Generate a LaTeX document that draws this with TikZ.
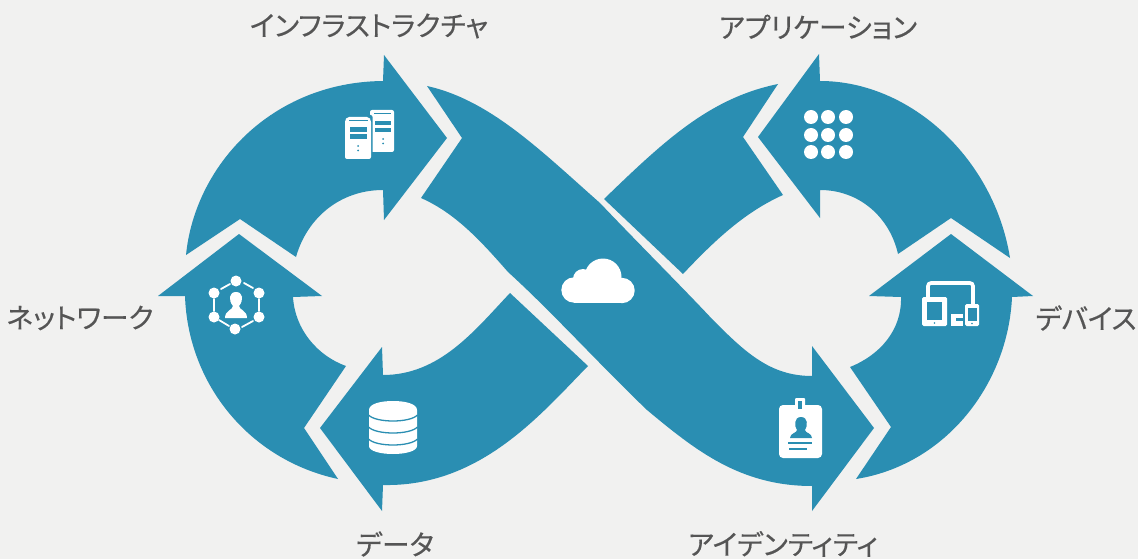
\documentclass[tikz,border=0pt]{standalone}
\usepackage{fontspec}
\newfontfamily\jpfont[FakeBold=0.35,RawFeature=+palt]{Noto Sans CJK JP}
\definecolor{bgc}{HTML}{F1F1F0}
\definecolor{teal}{HTML}{2A8EB2}
\definecolor{lab}{HTML}{555555}
\tikzset{
  band/.style={fill=teal,draw=none},
  ico/.style={fill=white,draw=none},
  icoline/.style={draw=white,line width=1.8pt,line cap=round},
  cut/.style={fill=teal,draw=none},
  lbl/.style={text=lab,font=\jpfont\fontsize{27.8}{30}\selectfont,inner sep=0pt,anchor=center}
}
\begin{document}
\begin{tikzpicture}[x=1pt,y=-1pt]
\useasboundingbox (0,0) rectangle (1138,559);
\fill[bgc] (0,0) rectangle (1138,559);
% infrastructure arrow
\path[band] (186,255) .. controls (195,165) and (272,82) .. (383,81) -- (384,55) -- (447,138) -- (384,220) -- (383,190)
  .. controls (340,190) and (307,218) .. (296,257) -- (240,219) -- cycle;
% network arrow
\path[band] (239,234) -- (322,296) -- (293,297) .. controls (295,330) and (318,356) .. (346,366) -- (304,428) -- (338,479)
  .. controls (250,460) and (188,385) .. (185,296) -- (158,296) -- cycle;
% data arrow
\path[band] (320,428) -- (382,347) -- (383,375) .. controls (440,375) and (475,330) .. (510,293) -- (588,366)
  .. controls (540,415) and (480,487) .. (383,485) -- (382,511) -- cycle;
% long band
\path[band] (427,86) .. controls (490,100) and (540,150) .. (600,203)
  .. controls (640,245) and (685,290) .. (713,320) .. controls (745,352) and (770,376) .. (812,376)
  -- (812,346) -- (874,428) -- (812,511) -- (812,486)
  .. controls (740,486) and (695,450) .. (647,410) .. controls (600,365) and (550,310) .. (508,272)
  .. controls (480,240) and (455,213) .. (421,198) -- (462,138) -- cycle;
% application band
\path[band] (778,84) .. controls (710,98) and (665,140) .. (604,199) -- (683,274)
  .. controls (715,240) and (745,212) .. (783,195) -- (743,137) -- cycle;
% application arrow
\path[band] (758,137) -- (819,54) -- (820,81) .. controls (910,81) and (994,158) .. (1010,258) -- (951,218) -- (898,254)
  .. controls (890,218) and (860,190) .. (820,190) -- (820,218) -- cycle;
% device arrow
\path[band] (951,234) -- (1033,296) -- (1012,297) .. controls (1008,385) and (945,465) .. (856,479) -- (891,427) -- (850,367)
  .. controls (880,355) and (902,330) .. (901,297) -- (869,296) -- cycle;
% server icon
\path[ico,rounded corners=2pt] (370,110) rectangle (394,152);
\path[cut,rounded corners=2pt] (343,115) rectangle (372.5,161);
\path[ico,rounded corners=2pt] (345,159) -- (345,120) -- (347,117) -- (369,117) -- (371,120) -- (371,159) -- cycle;
\foreach \yy in {127.5,134.5}{\fill[teal] (350,\yy) rectangle (367,\yy+4.5);}
\foreach \yy in {121,128}{\fill[teal] (375,\yy) rectangle (391,\yy+4.5);}
\fill[teal] (349,120.3) rectangle (368,121.2);
\fill[teal] (374,113.3) rectangle (391,114.2);
\foreach \yy in {146,150.5}{\fill[teal] (358,\yy) circle (1);}
\foreach \yy in {139,143.5}{\fill[teal] (383,\yy) circle (1);}
% network icon
\foreach \a/\b in {236/281,259/293,259/317,235/329,214/317,214/293}{\fill[white] (\a,\b) circle (5.5);}
\draw[icoline] (221,289) -- (230,284);
\draw[icoline] (244,283) -- (253,288);
\draw[icoline] (259,299) -- (259,311);
\draw[icoline] (253,321) -- (242,327);
\draw[icoline] (229,326) -- (219,320);
\draw[icoline] (214,299) -- (214,311);
\path[ico] (225,318) .. controls (225,310) and (233,310) .. (233,306)
  .. controls (228,300) and (229,292) .. (236,292) .. controls (243,292) and (244,300) .. (239,306)
  .. controls (239,310) and (247,310) .. (247,318) -- cycle;
% apps icon
\foreach \a in {811,828,846}{\foreach \b in {117,135,152}{\fill[white] (\a,\b) circle (7);}}
% database icon
\path[ico] (369,410) .. controls (369,404) and (380,401) .. (393,401) .. controls (406,401) and (417,404) .. (417,410)
  -- (417,446) .. controls (417,451) and (406,454) .. (393,454) .. controls (380,454) and (369,451) .. (369,446) -- cycle;
\foreach \dy in {0,12,24}{
  \draw[teal,line width=1.3pt] (368.5,415+\dy) .. controls (376,423+\dy) and (410,423+\dy) .. (417.5,415+\dy);
}
% cloud icon
\fill[white] (574,290) circle (12.7);
\fill[white] (583,279) circle (10);
\fill[white] (603,277) circle (18.5);
\fill[white] (622,290.5) circle (12.7);
\fill[white] (574,285) rectangle (622,303.2);
% device icon
\draw[white,line width=3.6pt,rounded corners=3pt] (928,303) -- (928,283) -- (973,283) -- (973,305);
\path[ico,rounded corners=1.5pt] (922,297) rectangle (947,326);
\fill[teal] (927,302) rectangle (942,320);
\fill[teal] (934.5,323) circle (0.9);
\path[ico,rounded corners=1.5pt] (965,304) rectangle (979,326);
\fill[teal] (967.5,308) rectangle (976.5,321);
\fill[teal] (972,323.5) circle (0.8);
\path[ico] (951,314) rectangle (963,326);
\fill[teal] (956,318) rectangle (963,320.5);
% badge icon
\path[ico,rounded corners=4pt] (779,405) rectangle (822,458);
\path[ico,rounded corners=1pt] (795,398) rectangle (805,411);
\fill[teal] (798,400.5) rectangle (802,409);
\path[cut] (790,438) .. controls (790,433) and (797,433) .. (797,430) .. controls (794,426) and (794,417) .. (801,417)
  .. controls (808,417) and (808,426) .. (805,430) .. controls (805,433) and (812,433) .. (812,438) -- cycle;
\fill[teal] (788,442) rectangle (812,444);
\fill[teal] (789,448) rectangle (807,450);
% labels
\node[lbl] (n1) at (369,26) {インフラストラクチャ};
\node[lbl] (n2) at (818,27) {アプリケーション};
\node[lbl] (n3) at (80,318) {ネットワーク};
\node[lbl] (n4) at (1086,318) {デバイス};
\node[lbl] (n5) at (395,544) {データ};
\node[lbl] (n6) at (783,544) {アイデンティティ};
\end{tikzpicture}
\end{document}
